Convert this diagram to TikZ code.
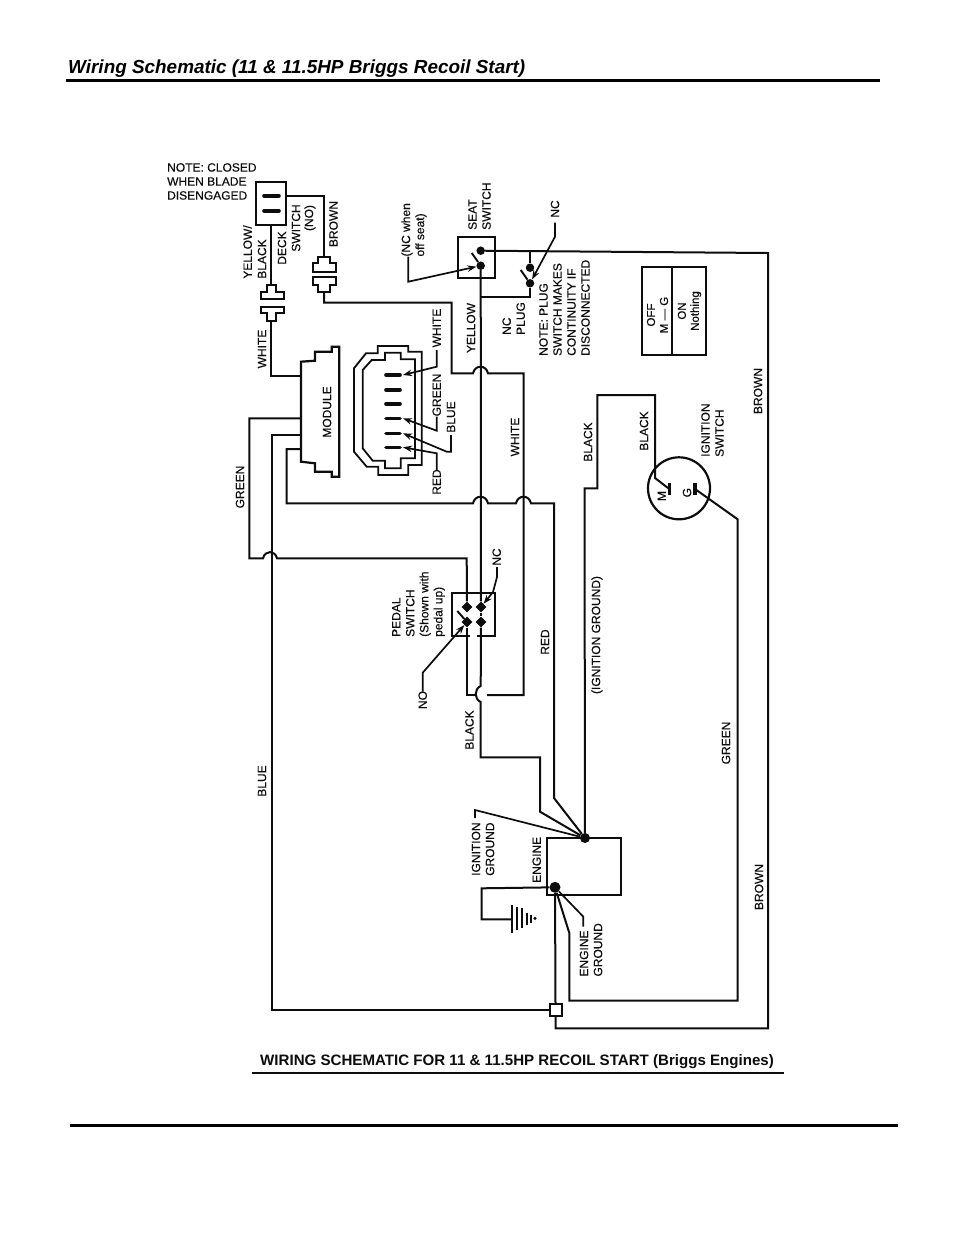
\documentclass[tikz,border=0pt]{standalone}
\usepackage{fontspec}
\setmainfont{Liberation Sans}
\newfontfamily\labfont[FakeBold=0.35]{Liberation Sans}
\usetikzlibrary{shapes.geometric,arrows.meta}
\definecolor{ink}{gray}{0.05}
\tikzset{
  wire/.style={draw=ink,line width=2pt,line join=miter},
  thin wire/.style={draw=ink,line width=1.9pt},
  lead/.style={draw=ink,line width=1.7pt,-{Stealth[length=9pt,width=6.5pt]}},
  plain lead/.style={draw=ink,line width=1.7pt},
  box/.style={draw=ink,line width=2.2pt,fill=none,inner sep=0pt},
  vlab/.style={text=ink,font=\labfont\fontsize{12}{14}\selectfont,rotate=90,inner sep=0pt,align=left,anchor=west},
  clab/.style={text=ink,font=\labfont\fontsize{12}{14}\selectfont,rotate=90,inner sep=0pt,align=center,anchor=center},
  tlab/.style={text=ink,font=\labfont\fontsize{11.5}{13}\selectfont,rotate=90,inner sep=0pt,align=center,anchor=center},
  hlab/.style={text=ink,font=\labfont\fontsize{12}{14}\selectfont,inner sep=0pt,align=left,anchor=north west},
  contact/.style={circle,fill=ink,inner sep=0pt,minimum size=8.5pt},
  pdot/.style={diamond,fill=ink,inner sep=0pt,minimum size=11pt},
  pin/.style={draw=ink,line width=3.6pt,line cap=round},
}
\begin{document}
\begin{tikzpicture}[x=1pt,y=-1pt]
\useasboundingbox[fill=white] (0,0) rectangle (954,1235);
% page furniture
\node[anchor=base west,inner sep=0pt,font=\bfseries\itshape\fontsize{18.9}{22}\selectfont] (title) at (68,73) {Wiring Schematic (11 \& 11.5HP Briggs Recoil Start)};
\coordinate (r1a) at (66,80.5); \coordinate (r1b) at (880,80.5);
\draw[line width=3pt] (r1a) -- (r1b);
\coordinate (r2a) at (70,1125); \coordinate (r2b) at (898,1125);
\draw[line width=3pt] (r2a) -- (r2b);
\node[anchor=base west,inner sep=0pt,text=ink,font=\bfseries\fontsize{15.1}{18}\selectfont] (subtitle) at (260,1065) {WIRING SCHEMATIC FOR 11 \& 11.5HP RECOIL START (Briggs Engines)};
\coordinate (r3a) at (252,1073); \coordinate (r3b) at (784,1073);
\draw[draw=ink,line width=2.4pt] (r3a) -- (r3b);

% boxes
\node[box,minimum width=30pt,minimum height=43pt] (deck) at (271,203.5) {};
\node[box,minimum width=36.7pt,minimum height=41.6pt] (seat) at (476.7,257.5) {};
\node[box,minimum width=74.3pt,minimum height=57pt] (engine) at (583.8,866.5) {};
\node[draw=ink,line width=2pt,fill=white,inner sep=0pt,minimum size=12pt] (block) at (555.5,1010) {};
\draw[box] (641.7,266.7) rectangle (705.7,355);
\coordinate (tabA) at (672.3,266.7); \coordinate (tabB) at (672.3,355);
\draw[box] (tabA) -- (tabB);
\node[circle,draw=ink,line width=2.2pt,inner sep=0pt,minimum size=62pt] (ign) at (679,488.3) {};

% deck switch contacts
\draw[pin] (264,195.7) -- (279,195.7);
\draw[pin] (264,210.7) -- (279,210.7);

% bullet connectors
\draw[box] (318,256.7) -- (318,263) -- (312.7,263) -- (312.7,271.7) -- (336,271.7) -- (336,263) -- (330,263) -- (330,256.7) -- cycle;
\draw[box] (318,291.7) -- (318,285) -- (312.7,285) -- (312.7,277) -- (336,277) -- (336,285) -- (330,285) -- (330,291.7) -- cycle;
\draw[box] (267.3,285) -- (267.3,291.7) -- (260.7,291.7) -- (260.7,299.3) -- (284,299.3) -- (284,291.7) -- (276,291.7) -- (276,285) -- cycle;
\draw[box] (267.3,321) -- (267.3,313.3) -- (260.7,313.3) -- (260.7,306.7) -- (284,306.7) -- (284,313.3) -- (276,313.3) -- (276,321) -- cycle;
\coordinate (conBt) at (324,256.7); \coordinate (conBb) at (324,291.7);
\coordinate (conYt) at (271,285); \coordinate (conYb) at (271,321);

% module
\draw[box,line join=miter] (301,361.7) -- (315,360.7) -- (315,351.7) -- (331.7,351.7) -- (331.7,346.7) -- (339.3,346.7) -- (339.3,476.7) -- (331.7,476.7) -- (331.7,471.7) -- (315,471.7) -- (315,463.3) -- (301,461.7) -- cycle;
\coordinate (modW) at (301,376); \coordinate (modG) at (301,418.3);
\coordinate (modB) at (301,435); \coordinate (modR) at (301,449);

% six pin plug
\draw[box,line width=1.8pt] (354,368.3) -- (366,353.3) -- (377.7,353.3) -- (377.7,346) -- (408.3,346) -- (408.3,351.7) -- (421.7,351.7) -- (421.7,465) -- (408.3,465) -- (408.3,475) -- (378.3,475) -- (378.3,466.7) -- (366.7,466.7) -- (354,451.7) -- cycle;
\draw[box,line width=1.8pt] (362.7,370) -- (371.7,360) -- (385,360) -- (385,352.7) -- (400.7,352.7) -- (400.7,359.3) -- (415,359.3) -- (415,458.3) -- (400.7,458.3) -- (400.7,468.3) -- (385,468.3) -- (385,460.7) -- (372.7,460.7) -- (362.7,448.3) -- cycle;
\foreach \n/\y in {a/375,b/390,c/404,d/418.3,e/433.3,f/447.3}{
  \draw[pin] (386,\y) -- (400,\y);
  \coordinate (pin\n) at (403,\y);
}

% seat switch and plug switch contacts
\node[contact] (seatA) at (480.7,250.7) {};
\node[contact] (seatB) at (480.7,265.7) {};
\coordinate (bladeS) at (471.7,253);
\draw[thin wire] (bladeS) -- (seatB);
\node[contact] (plugA) at (530,267.7) {};
\node[contact] (plugB) at (530,283.3) {};
\coordinate (bladeP) at (520.7,270);
\draw[thin wire] (bladeP) -- (plugB);

% pedal switch
\node[pdot] (pedA) at (467,607) {};
\node[pdot] (pedB) at (481,607) {};
\node[pdot] (pedC) at (467,622) {};
\node[pdot] (pedD) at (481,622) {};
\coordinate (bladeD) at (457.3,611);
\draw[thin wire] (bladeD) -- (pedC);
\draw[box] (470,636) -- (451.7,636) -- (451.7,592.7) -- (495,592.7) -- (495,636) -- (476.7,636);

% engine contacts and ground
\node[contact,minimum size=10pt] (engTop) at (585,838) {};
\node[contact,minimum size=11pt] (engBot) at (555,887.3) {};
\coordinate (gnd) at (511.7,919.3);
\draw[draw=ink,line width=2.2pt] (511.7,905) -- (511.7,932.7);
\draw[draw=ink,line width=2.2pt] (516.7,906.7) -- (516.7,930);
\draw[draw=ink,line width=2.2pt] (521.7,908) -- (521.7,928);
\draw[draw=ink,line width=2.2pt] (526.7,912.7) -- (526.7,925);
\draw[draw=ink,line width=2.2pt] (530.7,915) -- (530.7,922.7);
\node[circle,fill=ink,inner sep=0pt,minimum size=3.4pt] (gndDot) at (535,918.3) {};

% ignition switch contacts
\coordinate (barM) at (669.3,489);
\coordinate (barG) at (695,489);
\draw[draw=ink,line width=3.4pt] (669.3,483) -- (669.3,495);
\draw[draw=ink,line width=3.4pt] (695,483) -- (695,495);

% wires
\draw[wire] (deck.east |- 0,195.7) -- (324,195.7) -- (conBt);
\draw[wire] (deck.south) -- (conYt);
\draw[wire] (conYb) -- (271,376) -- (modW);
% brown NC / white to pedal
\draw[wire] (conBb) -- (324,302.7) -- (451.7,302.7) -- (451.7,373.3) -- (473,373.3) .. controls (475,364.5) and (486,364.5) .. (488,373.3) -- (523.5,373.3) -- (523.5,695) -- (487,695);
% yellow main vertical, seat to pedal then black to engine
\draw[wire] (seatB) -- (pedB);
\draw[wire] (pedB) -- (pedD);
\draw[wire] (pedD) -- (480.7,686) .. controls (474,689) and (474,699) .. (480.7,702) -- (480.7,757.3) -- (540,757.3) -- (540,811.7) -- (engTop);
\draw[wire] (pedC) -- (467,695) -- (476,695);
\draw[wire] (pedA) -- (466.7,558.3) -- (277,558.3) .. controls (275,550) and (265,550) .. (263,558.3) -- (249.3,558.3) -- (249.3,418.3) -- (modG);
% blue
\draw[wire] (modB) -- (271.7,435) -- (271.7,1010) -- (block.west);
% red
\draw[wire] (modR) -- (286.7,449) -- (286.7,503.3) -- (473,503.3) .. controls (475,494.5) and (486,494.5) .. (488,503.3) -- (516,503.3) .. controls (518,494.5) and (529,494.5) .. (531,503.3) -- (554,503.3) -- (554,798) -- (engTop);
% black from ignition switch
\draw[wire] (barM) -- (655,478) -- (655,395) -- (597.3,395) -- (597.3,488.3) -- (584.5,488.3) -- (engTop);
% green from ignition switch
\draw[wire] (barG) -- (737.7,519.3) -- (737.7,1000.7) -- (569.3,1000.7) -- (569.3,933) -- (engBot);
% brown from seat
\draw[wire] (seatA) -- (768,253) -- (768,1028.3) -- (555.5,1028.3) -- (block.south);
\draw[wire] (block.north) -- (engBot);
% plug switch wiring
\draw[wire] (480.7,296.7) -- (530,296.7) -- (plugB);
\draw[wire] (530,251) -- (plugA);
% engine ground
\draw[wire] (engBot) -- (481.7,888.3) -- (481.7,919.3) -- (gnd);

% leaders
\draw[lead] (408.3,256.7) -- (408.3,281.7) -- (seatB);
\draw[lead] (555,222.7) -- (555,236.7) -- (plugB);
\draw[lead] (436.7,350) -- (436.7,366.7) -- (pina);
\draw[lead] (436.7,416.7) -- (436.7,430.7) -- (pind);
\draw[lead] (451,435) -- (451,451.7) -- (446.7,451.7) -- (pine);
\draw[lead] (436.7,470) -- (436.7,453.3) -- (pinf);
\draw[lead] (497,567) -- (497,577) -- (493,592) -- (pedB);
\draw[lead] (422.7,691.7) -- (422.7,672.7) -- (pedC);
\draw[plain lead] (475,818) -- (475,810) -- (engTop);
\draw[plain lead] (583.3,926.7) -- (583.3,916.7) -- (engBot);

% labels
\node[hlab] (noteL) at (167,163) {NOTE: CLOSED\\WHEN BLADE\\DISENGAGED};
\node[clab] (lYel) at (247.5,252) {YELLOW/};
\node[clab] (lBlk) at (262,259) {BLACK};
\node[clab] (lDeck) at (282,248) {DECK};
\node[clab] (lSw) at (296,228) {SWITCH};
\node[clab] (lNo) at (310,218) {(NO)};
\node[clab] (lBrown) at (333.5,224) {BROWN};
\node[clab] (lWh1) at (262,349) {WHITE};
\node[clab] (lGr1) at (240,487) {GREEN};
\node[clab] (lMod) at (327,412) {MODULE};
\node[clab] (lYel2) at (471,328) {YELLOW};
\node[clab] (lBlue) at (262,781) {BLUE};
\node[clab] (lWh2) at (515,437) {WHITE};
\node[clab] (lBk1) at (588,442) {BLACK};
\node[clab] (lBk2) at (644,431) {BLACK};
\node[vlab] (lSeat) at (479.5,230) {SEAT\\SWITCH};
\node[vlab] (lNcSeat) at (414,256.7) {(NC when\\off seat)};
\node[clab] (lNc1) at (555,209) {NC};
\node[vlab] (lPlug) at (513.7,335) {NC\\PLUG};
\node[vlab] (lNote) at (564.5,356) {NOTE: PLUG\\SWITCH MAKES\\CONTINUITY IF\\DISCONNECTED};
\node[tlab] (lOff) at (657.5,315) {OFF\\M — G};
\node[tlab] (lOn) at (689.5,311) {ON\\Nothing};
\node[vlab] (lIgn) at (712.5,457) {IGNITION\\SWITCH};
\node[clab] (lBr1) at (758,391) {BROWN};
\node[clab] (lM) at (661.7,496) {M};
\node[clab] (lG) at (687,492.7) {G};
\node[clab] (lWh3) at (436.7,328) {WHITE};
\node[clab] (lGr2) at (436.7,395) {GREEN};
\node[clab] (lBl2) at (451,417) {BLUE};
\node[clab] (lRd2) at (436.7,482) {RED};
\node[vlab] (lPedal) at (418.5,637) {PEDAL\\SWITCH\\(Shown with\\pedal up)};
\node[clab] (lNo2) at (422.7,700) {NO};
\node[clab] (lNc2) at (496.7,557) {NC};
\node[clab] (lRd3) at (545,642) {RED};
\node[clab] (lBk3) at (469.5,730) {BLACK};
\node[clab] (lIG) at (597,635) {(IGNITION GROUND)};
\node[clab] (lGr3) at (726,743) {GREEN};
\node[clab] (lBr2) at (759,887) {BROWN};
\node[vlab] (lIgnG) at (483,876) {IGNITION\\GROUND};
\node[vlab] (lEng) at (536.7,883) {ENGINE};
\node[vlab] (lEngG) at (591,976.7) {ENGINE\\GROUND};
\end{tikzpicture}
\end{document}
